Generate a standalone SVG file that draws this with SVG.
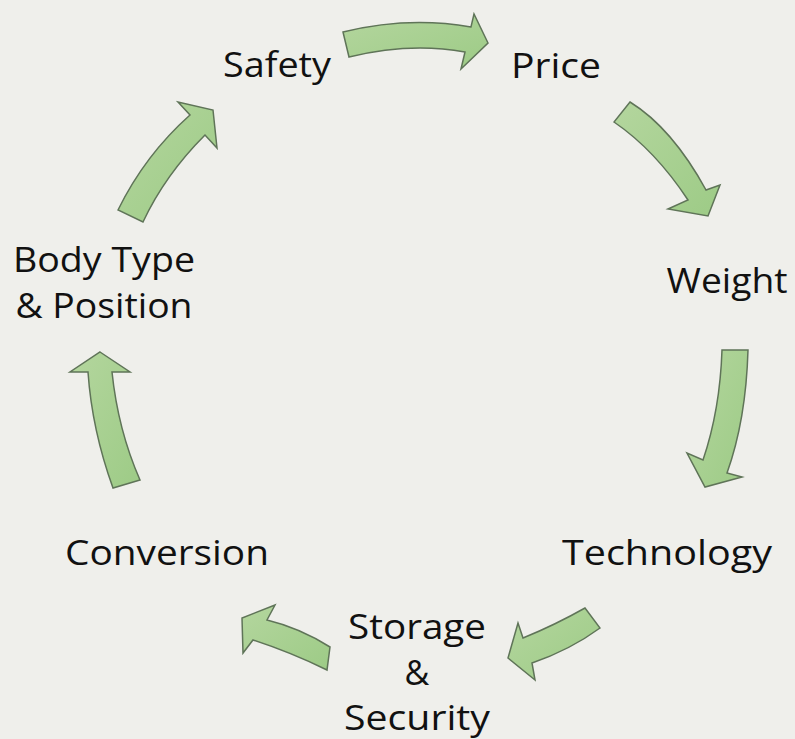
<svg xmlns="http://www.w3.org/2000/svg" width="795" height="739" viewBox="0 0 795 739">
<defs>
<linearGradient id="g" x1="0" y1="0" x2="1" y2="1">
<stop offset="0" stop-color="#b4d69e"/>
<stop offset="1" stop-color="#9dcb86"/>
</linearGradient>
<style>
.arr{fill:url(#g);stroke:#5f7458;stroke-width:1.5;stroke-linejoin:miter}
.lbl{font-family:"Open Sans","Liberation Sans",sans-serif;font-size:34px;fill:#111;text-anchor:middle}
</style>
</defs>
<rect width="795" height="739" fill="#efefeb"/>
<g id="connectors">
<path class="arr" d="M343,32 Q408,16 471,27 L474,14 L488,43 L461,69 L465,52 Q410,42 349,57 Z"/>
<path class="arr" d="M630,102 Q672,128 706,190 L720,185 L708,216 L668,209 L688,200 Q655,150 614,122 Z"/>
<path class="arr" d="M722,350 L748,350 Q746,420 727,473 L742,477 L705,487 L687,453 L703,460 Q720,410 722,350 Z"/>
<path class="arr" d="M585,608 Q555,625 523,638 L518,623 L508,658 L535,680 L532,663 Q570,650 600,628 Z"/>
<path class="arr" d="M330,647 Q300,628 267,620 L275,605 L242,618 L243,653 L253,640 Q290,652 327,670 Z"/>
<path class="arr" d="M100,352 L130,372 L112,372 Q118,430 140,480 L113,488 Q92,430 88,372 L70,372 Z"/>
<path class="arr" d="M118,210 Q145,155 190,115 L178,102 L213,110 L217,148 L205,135 Q165,175 143,222 Z"/>
</g>
<g id="safety"><text class="lbl" x="277" y="77" textLength="108" lengthAdjust="spacingAndGlyphs">Safety</text></g>
<g id="price"><text class="lbl" x="556" y="78" textLength="90" lengthAdjust="spacingAndGlyphs">Price</text></g>
<g id="weight"><text class="lbl" x="727" y="293" textLength="121" lengthAdjust="spacingAndGlyphs">Weight</text></g>
<g id="technology"><text class="lbl" x="667" y="565" textLength="210" lengthAdjust="spacingAndGlyphs">Technology</text></g>
<g id="storage"><text class="lbl" x="417" y="639" textLength="138" lengthAdjust="spacingAndGlyphs">Storage</text><text class="lbl" x="417" y="685">&amp;</text><text class="lbl" x="417" y="730" textLength="146" lengthAdjust="spacingAndGlyphs">Security</text></g>
<g id="conversion"><text class="lbl" x="167" y="565" textLength="204" lengthAdjust="spacingAndGlyphs">Conversion</text></g>
<g id="bodytype"><text class="lbl" x="104" y="272" textLength="182" lengthAdjust="spacingAndGlyphs">Body Type</text><text class="lbl" x="104" y="318" textLength="177" lengthAdjust="spacingAndGlyphs">&amp; Position</text></g>
</svg>
